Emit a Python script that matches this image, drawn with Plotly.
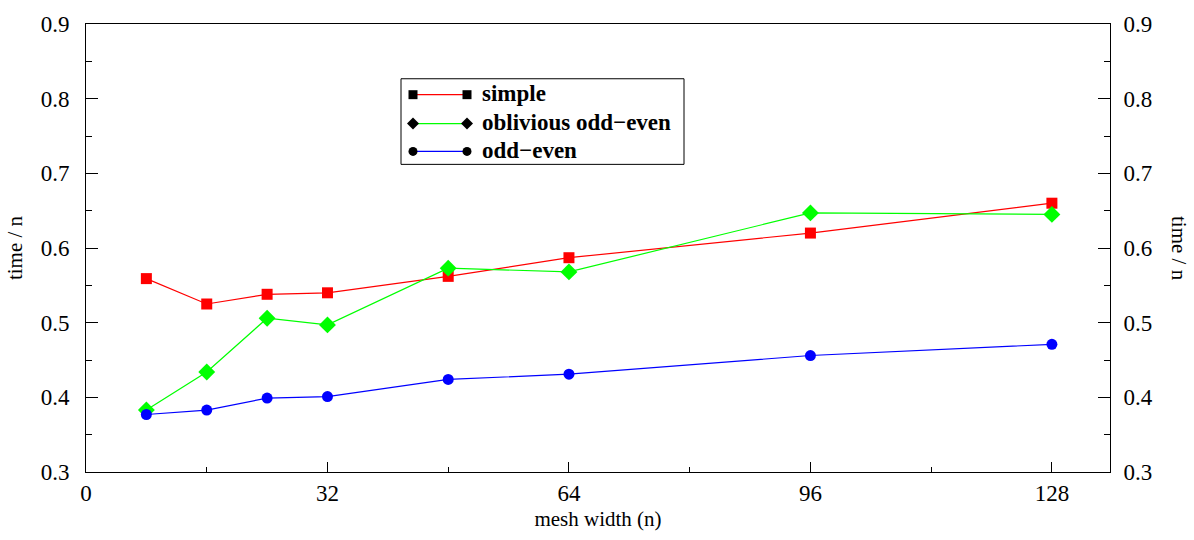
import plotly.graph_objects as go

mesh_width = [8, 16, 24, 32, 48, 64, 96, 128]
simple = [0.559, 0.525, 0.538, 0.540, 0.562, 0.587, 0.620, 0.660]
oblivious = [0.383, 0.434, 0.506, 0.497, 0.573, 0.568, 0.647, 0.645]
odd_even = [0.377, 0.383, 0.399, 0.401, 0.424, 0.431, 0.456, 0.471]

series_names = ["simple", "oblivious odd\u2212even", "odd\u2212even"]
series_colors = ["#ff0000", "#00ff00", "#0000ff"]
series_symbols = ["square", "diamond", "circle"]
series_sizes = [11, 13, 11]
x_ticks = [0, 32, 64, 96, 128]
y_major = [0.3, 0.4, 0.5, 0.6, 0.7, 0.8, 0.9]
y_minor = [0.35, 0.45, 0.55, 0.65, 0.75, 0.85]

FONT = "Liberation Serif, Times New Roman, Times, serif"
W, H = 1194, 540
L, R, T, B = 86, 84, 22, 68
PW, PH = W - L - R, H - T - B

fig = go.Figure()
for name, vals, col, sym, sz in zip(series_names, [simple, oblivious, odd_even],
                                    series_colors, series_symbols, series_sizes):
    fig.add_trace(go.Scatter(x=mesh_width, y=vals, mode="lines+markers", name=name,
                             line=dict(color=col, width=1.2),
                             marker=dict(symbol=sym, size=sz, color=col),
                             showlegend=False))
# invisible traces so the extra axes are drawn
for ya in ("y2", "y3", "y4"):
    fig.add_trace(go.Scatter(x=mesh_width, y=simple, yaxis=ya, mode="markers",
                             marker=dict(opacity=0), hoverinfo="skip", showlegend=False))

def px2paper(px, py):
    return (px - L) / PW, (H - B - py) / PH

shapes = []
annotations = []
# legend box
x0, y0 = px2paper(401, 77)
x1, y1 = px2paper(684, 163)
shapes.append(dict(type="rect", xref="paper", yref="paper", x0=x0, y0=y1, x1=x1, y1=y0,
                   line=dict(color="black", width=1), fillcolor="white"))
rows = [93, 122, 150]
for name, col, sym, ry in zip(series_names, series_colors, series_symbols, rows):
    ax, ay = px2paper(413, ry)
    bx, _ = px2paper(467, ry)
    shapes.append(dict(type="line", xref="paper", yref="paper", x0=ax, y0=ay, x1=bx, y1=ay,
                       line=dict(color=col, width=1.2)))
    for mx in (413, 467):
        if sym == "square":
            h = 4.5
            xa, ya = px2paper(mx - h, ry + h)
            xb, yb = px2paper(mx + h, ry - h)
            shapes.append(dict(type="rect", xref="paper", yref="paper", x0=xa, y0=ya, x1=xb, y1=yb,
                               fillcolor="black", line=dict(width=0)))
        elif sym == "circle":
            h = 4.5
            xa, ya = px2paper(mx - h, ry + h)
            xb, yb = px2paper(mx + h, ry - h)
            shapes.append(dict(type="circle", xref="paper", yref="paper", x0=xa, y0=ya, x1=xb, y1=yb,
                               fillcolor="black", line=dict(width=0)))
        else:
            h = 6
            pts = [px2paper(mx - h, ry), px2paper(mx, ry - h), px2paper(mx + h, ry), px2paper(mx, ry + h)]
            path = "M " + " L ".join(f"{p[0]:.5f},{p[1]:.5f}" for p in pts) + " Z"
            shapes.append(dict(type="path", xref="paper", yref="paper", path=path,
                               fillcolor="black", line=dict(width=0)))
    tx, ty = px2paper(480, ry - 1)
    annotations.append(dict(x=tx, y=ty, xref="paper", yref="paper", text=f"<b>{name}</b>",
                            showarrow=False, xanchor="left", yanchor="middle",
                            font=dict(family=FONT, size=23, color="black")))

# right axis title (reads top to bottom)
rx, _ = px2paper(1179, 0)
annotations.append(dict(x=rx, y=0.5, xref="paper", yref="paper", text="time / n",
                        showarrow=False, textangle=90, xanchor="center", yanchor="middle",
                        font=dict(family=FONT, size=21, color="black")))

major_common = dict(range=[0.3, 0.9], tickvals=y_major, ticktext=[f"{v:.1f}" for v in y_major],
                    ticks="inside", ticklen=12, tickcolor="black", tickwidth=1,
                    showgrid=False, zeroline=False, showline=True, linecolor="black", linewidth=1,
                    tickfont=dict(family=FONT, size=23, color="black"))
minor_common = dict(range=[0.3, 0.9], tickvals=y_minor, ticks="inside", ticklen=6,
                    tickcolor="black", tickwidth=1, showticklabels=False,
                    showgrid=False, zeroline=False, showline=False)

fig.update_layout(
    width=W, height=H,
    margin=dict(l=L, r=R, t=T, b=B),
    paper_bgcolor="white", plot_bgcolor="white",
    font=dict(family=FONT, color="black"),
    xaxis=dict(range=[0, 135.7], tickvals=x_ticks, ticks="inside", ticklen=10, tickcolor="black",
               minor=dict(dtick=16, tick0=0, ticks="inside", ticklen=5, tickcolor="black"),
               showgrid=False, zeroline=False, showline=True, mirror=True, linecolor="black",
               tickfont=dict(family=FONT, size=23, color="black"),
               title=dict(text="mesh width (n)", font=dict(family=FONT, size=21), standoff=6)),
    yaxis=dict(**major_common, ticklabelstandoff=11,
               title=dict(text="time / n", font=dict(family=FONT, size=21), standoff=12)),
    yaxis2=dict(**major_common, ticklabelstandoff=8, overlaying="y", side="right"),
    yaxis3=dict(**minor_common, overlaying="y", side="left"),
    yaxis4=dict(**minor_common, overlaying="y", side="right"),
    shapes=shapes, annotations=annotations,
)

fig.write_html("out.html")
